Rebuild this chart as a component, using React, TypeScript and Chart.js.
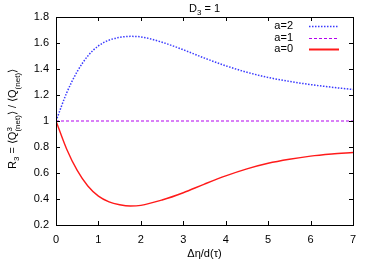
import React, { useEffect, useRef } from "react";
import { Chart, registerables } from "chart.js";

Chart.register(...registerables);

const xValues = [0, 0.25, 0.5, 0.75, 1, 1.25, 1.5, 1.75, 2, 2.5, 3, 3.5, 4, 4.5, 5, 5.5, 6, 6.5, 7];
const a2Values = [1, 1.215, 1.38, 1.5, 1.578, 1.622, 1.643, 1.651, 1.647, 1.606, 1.548, 1.484, 1.425, 1.375, 1.335, 1.305, 1.28, 1.26, 1.242];
const a1Values = [1, 1, 1, 1, 1, 1, 1, 1, 1, 1, 1, 1, 1, 1, 1, 1, 1, 1, 1];
const a0Values = [1, 0.785, 0.62, 0.5, 0.422, 0.378, 0.356, 0.346, 0.351, 0.392, 0.448, 0.515, 0.578, 0.632, 0.675, 0.706, 0.73, 0.746, 0.758];
const xTicks = [0, 1, 2, 3, 4, 5, 6, 7];
const yTicks = [0.2, 0.4, 0.6, 0.8, 1, 1.2, 1.4, 1.6, 1.8];
const seriesLabels = ["a=2", "a=1", "a=0"];
const seriesColors = ["#3a3aff", "#b400f0", "#ff1a1a"];
const seriesDash = [[1.5, 1.5], [3, 2], []];
const seriesWidth = [1.5, 1.2, 1.4];

const FONT = "Liberation Sans, Arial, sans-serif";

const toPts = (ys: number[]) => xValues.map((x, i) => ({ x, y: ys[i] }));

const framePlugin = {
  id: "frame",
  afterDraw(chart: any) {
    const { ctx, chartArea: a, scales } = chart;
    const xs = scales.x;
    const ys = scales.y;
    ctx.save();
    ctx.strokeStyle = "#000";
    ctx.lineWidth = 1;
    ctx.setLineDash([]);
    ctx.strokeRect(Math.round(a.left) + 0.5, Math.round(a.top) + 0.5, Math.round(a.right - a.left), Math.round(a.bottom - a.top));
    const tl = 4;
    ctx.beginPath();
    xTicks.forEach((t) => {
      const px = Math.round(xs.getPixelForValue(t)) + 0.5;
      ctx.moveTo(px, a.bottom);
      ctx.lineTo(px, a.bottom - tl);
      ctx.moveTo(px, a.top);
      ctx.lineTo(px, a.top + tl);
    });
    yTicks.forEach((t) => {
      const py = Math.round(ys.getPixelForValue(t)) + 0.5;
      ctx.moveTo(a.left, py);
      ctx.lineTo(a.left + tl, py);
      ctx.moveTo(a.right, py);
      ctx.lineTo(a.right - tl, py);
    });
    ctx.stroke();

    // title
    ctx.fillStyle = "#000";
    ctx.textBaseline = "alphabetic";
    const tf = `11px ${FONT}`;
    const sf = `8px ${FONT}`;
    ctx.font = tf;
    const wD = ctx.measureText("D").width;
    ctx.font = sf;
    const w3 = ctx.measureText("3").width;
    ctx.font = tf;
    const wRest = ctx.measureText(" = 1").width;
    const tw = wD + w3 + wRest;
    let tx = (a.left + a.right) / 2 - tw / 2;
    const ty = 12;
    ctx.textAlign = "left";
    ctx.fillText("D", tx, ty);
    tx += wD;
    ctx.font = sf;
    ctx.fillText("3", tx, ty + 3);
    tx += w3;
    ctx.font = tf;
    ctx.fillText(" = 1", tx, ty);

    // x label
    ctx.textAlign = "center";
    ctx.fillText("Δη/d(τ)", (a.left + a.right) / 2, 257);

    // y label (rotated, with sub/superscripts)
    const parts: [string, string, number][] = [
      ["R", "n", 0], ["3", "s", 3], [" = ⟨Q", "n", 0], ["3", "s", -4.5], ["(net)", "s", 3.5],
      ["⟩ / ⟨Q", "n", 0], ["(net)", "s", 3.5], ["⟩", "n", 0],
    ];
    const widths = parts.map(([t, k]) => {
      ctx.font = k === "n" ? tf : sf;
      return ctx.measureText(t).width;
    });
    let total = 0;
    parts.forEach((p, i) => {
      if (i === 3) return;
      total += widths[i];
    });
    ctx.translate(16, (a.top + a.bottom) / 2 - 2);
    ctx.rotate(-Math.PI / 2);
    ctx.textAlign = "left";
    let cx = -total / 2;
    parts.forEach(([t, k, dy], i) => {
      ctx.font = k === "n" ? tf : sf;
      ctx.fillText(t, cx, dy);
      if (i !== 3) cx += widths[i];
    });
    ctx.restore();

    // legend
    ctx.save();
    ctx.font = tf;
    ctx.textAlign = "right";
    ctx.textBaseline = "middle";
    const rows = [26, 37.5, 49];
    seriesLabels.forEach((lab, i) => {
      ctx.fillStyle = "#000";
      ctx.fillText(lab, 293, rows[i]);
      ctx.strokeStyle = seriesColors[i];
      ctx.lineWidth = seriesWidth[i] + (i === 2 ? 0.6 : 0);
      ctx.setLineDash(seriesDash[i]);
      ctx.beginPath();
      ctx.moveTo(309, Math.round(rows[i]) + 0.5);
      ctx.lineTo(339, Math.round(rows[i]) + 0.5);
      ctx.stroke();
    });
    ctx.restore();
  },
};

export default function App() {
  const ref = useRef<HTMLCanvasElement | null>(null);
  useEffect(() => {
    if (!ref.current) return;
    const datasets = [a2Values, a1Values, a0Values].map((vals, i) => ({
      label: seriesLabels[i],
      data: toPts(vals),
      borderColor: seriesColors[i],
      borderWidth: seriesWidth[i],
      borderDash: seriesDash[i],
      pointRadius: 0,
      showLine: true,
      fill: false,
      cubicInterpolationMode: "monotone" as const,
    }));
    const chart = new Chart(ref.current, {
      type: "scatter",
      data: { datasets },
      options: {
        animation: false,
        responsive: false,
        maintainAspectRatio: false,
        layout: { padding: { top: 17, right: 21, left: 0, bottom: 0 } },
        plugins: { legend: { display: false }, tooltip: { enabled: false }, title: { display: false } },
        scales: {
          x: {
            type: "linear",
            min: 0,
            max: 7,
            afterFit: (s: any) => { s.height = 37; },
            afterBuildTicks: (s: any) => { s.ticks = xTicks.map((v) => ({ value: v })); },
            grid: { display: false, drawTicks: false },
            border: { display: false },
            ticks: { color: "#000", font: { family: FONT, size: 11 }, padding: 8, maxRotation: 0 },
          },
          y: {
            type: "linear",
            min: 0.2,
            max: 1.8,
            afterFit: (s: any) => { s.width = 56; },
            afterBuildTicks: (s: any) => { s.ticks = yTicks.map((v) => ({ value: v })); },
            grid: { display: false, drawTicks: false },
            border: { display: false },
            ticks: {
              color: "#000",
              font: { family: FONT, size: 11 },
              padding: 7,
              callback: (v: any) => String(Math.round(Number(v) * 10) / 10),
            },
          },
        },
      },
      plugins: [framePlugin],
    });
    return () => chart.destroy();
  }, []);
  return (
    <div style={{ position: "fixed", left: 0, top: 0, width: 374, height: 262, background: "#fff" }}>
      <canvas ref={ref} width={374} height={262} style={{ display: "block" }} />
    </div>
  );
}
